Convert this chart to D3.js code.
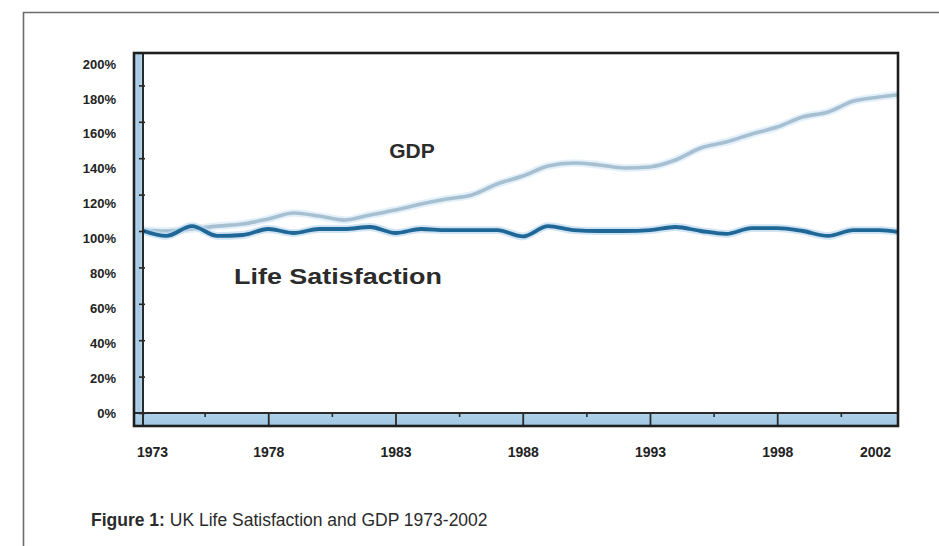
<!DOCTYPE html>
<html>
<head>
<meta charset="utf-8">
<script src="https://cdn.jsdelivr.net/npm/d3@7"></script>
<style>
  html, body { margin: 0; padding: 0; background: #fff; }
  svg { display: block; font-family: "Liberation Sans", Arial, Helvetica, sans-serif; }
</style>
</head>
<body>
<svg id="chart" width="939" height="546"></svg>
<script>
// Years of the series (the last point runs off the right edge of the frame)
const years = [1973, 1974, 1975, 1976, 1977, 1978, 1979, 1980, 1981, 1982,
               1983, 1984, 1985, 1986, 1987, 1988, 1989, 1990, 1991, 1992,
               1993, 1994, 1995, 1996, 1997, 1998, 1999, 2000, 2001, 2002, 2003];

// Index, 1973 = 100%
const gdp = [100.5, 100, 101.1, 102.7, 103.8, 106.6, 109.9, 108.2, 106, 108.8,
             111.5, 114.8, 117.6, 119.8, 125.8, 130.2, 135.7, 137.4, 136.3, 134.6,
             135.2, 139, 145.6, 148.9, 153.3, 157.1, 162.6, 165.4, 171.4, 173.6, 175.3];

const lifeSatisfaction = [100.5, 97.3, 102.7, 97.3, 97.8, 101.1, 98.9, 101.1, 101.1, 102.2,
                          98.9, 101.1, 100.5, 100.5, 100.5, 97, 102.7, 100.5, 100, 100,
                          100.5, 102.2, 100, 98.4, 101.6, 101.6, 100, 97.3, 100.5, 100.5, 98.9];

const yTickLabels = [0, 20, 40, 60, 80, 100, 120, 140, 160, 180, 200];
const xTickLabels = [1973, 1978, 1983, 1988, 1993, 1998, 2002];
const xDividers = [1978, 1983, 1988, 1993, 1998];
const xMinorTicks = [1975.5, 1980.5, 1985.5, 1990.5, 1995.5, 2000.5];

const seriesLabels = { gdp: "GDP", life: "Life Satisfaction" };
const captionBold = "Figure 1:";
const captionText = " UK Life Satisfaction and GDP 1973-2002";

const svg = d3.select("#chart");

// Frame geometry
const box = { left: 134, top: 53, right: 898, bottom: 426 };
const band = { left: 143, bottom: 413 };

const x = d3.scaleLinear().domain([1973, 2002]).range([141, 879]);
const y = d3.scaleLinear().domain([0, 100]).range([413, 231]);
// Percentage captions are spaced on their own ladder beside the frame
const yLabel = d3.scaleLinear().domain([0, 200]).range([413, 64]);

// Page border (left and top rules)
svg.append("path")
  .attr("d", "M23.5,546 V12.5 H939")
  .attr("fill", "none")
  .attr("stroke", "#6b6b6b")
  .attr("stroke-width", 1.6);

const defs = svg.append("defs");
defs.append("clipPath").attr("id", "plotClip")
  .append("rect")
  .attr("x", band.left).attr("y", box.top)
  .attr("width", box.right - band.left).attr("height", band.bottom - box.top);

const bandGrad = defs.append("linearGradient").attr("id", "bandV")
  .attr("x1", 0).attr("x2", 1).attr("y1", 0).attr("y2", 0);
bandGrad.append("stop").attr("offset", 0).attr("stop-color", "#bddaee");
bandGrad.append("stop").attr("offset", 0.5).attr("stop-color", "#a3c9e5");
bandGrad.append("stop").attr("offset", 1).attr("stop-color", "#badaef");

const bandGradH = defs.append("linearGradient").attr("id", "bandH")
  .attr("x1", 0).attr("x2", 0).attr("y1", 0).attr("y2", 1);
bandGradH.append("stop").attr("offset", 0).attr("stop-color", "#b0d2ea");
bandGradH.append("stop").attr("offset", 1).attr("stop-color", "#9fc6e2");

// Plot background
svg.append("rect")
  .attr("x", box.left).attr("y", box.top)
  .attr("width", box.right - box.left).attr("height", box.bottom - box.top)
  .attr("fill", "#ffffff");

// Left and bottom blue bands
svg.append("rect")
  .attr("x", box.left).attr("y", box.top)
  .attr("width", band.left - box.left).attr("height", box.bottom - box.top)
  .attr("fill", "url(#bandV)");
svg.append("rect")
  .attr("x", box.left).attr("y", band.bottom)
  .attr("width", box.right - box.left).attr("height", box.bottom - band.bottom)
  .attr("fill", "url(#bandH)");

// Series lines
const line = d3.line()
  .x((d, i) => x(years[i]))
  .y(d => y(d))
  .curve(d3.curveMonotoneX);

const plot = svg.append("g").attr("clip-path", "url(#plotClip)");

function drawSeries(values, halo, stroke, width) {
  plot.append("path").datum(values)
    .attr("d", line)
    .attr("fill", "none")
    .attr("stroke", halo)
    .attr("stroke-width", width + 4)
    .attr("stroke-linejoin", "round")
    .attr("stroke-linecap", "round")
    .attr("opacity", 0.7);
  plot.append("path").datum(values)
    .attr("d", line)
    .attr("fill", "none")
    .attr("stroke", stroke)
    .attr("stroke-width", width)
    .attr("stroke-linejoin", "round")
    .attr("stroke-linecap", "round");
}

drawSeries(gdp, "#d7eaf6", "#a6c0d2", 3.6);
drawSeries(lifeSatisfaction, "#bcd9ee", "#1f6796", 3.8);

// Y ticks on the inner edge of the left band
svg.append("g")
  .attr("transform", `translate(${band.left + 2},0)`)
  .call(d3.axisLeft(y).tickValues(yTickLabels.filter(v => y(v) > box.top + 4)).tickSize(6).tickFormat(""))
  .call(g => g.select(".domain").remove())
  .call(g => g.selectAll(".tick line").attr("stroke", "#222").attr("stroke-width", 1.6));

// Y labels
svg.append("g")
  .attr("transform", "translate(116,0)")
  .call(d3.axisLeft(yLabel).tickValues(yTickLabels).tickSize(0).tickPadding(0).tickFormat(d => d + "%"))
  .call(g => g.select(".domain").remove())
  .call(g => g.selectAll("text")
    .attr("font-family", "'Liberation Sans', Arial, sans-serif")
    .attr("font-size", 13)
    .attr("font-weight", "bold")
    .attr("fill", "#222"));

// Bottom band: full-height dividers and short minor ticks
svg.append("g")
  .attr("transform", `translate(0,${band.bottom})`)
  .call(d3.axisBottom(x).tickValues(xDividers).tickSize(box.bottom - band.bottom).tickFormat(""))
  .call(g => g.select(".domain").remove())
  .call(g => g.selectAll(".tick line").attr("stroke", "#2a2a2a").attr("stroke-width", 1.8));
svg.append("g")
  .attr("transform", `translate(0,${band.bottom})`)
  .call(d3.axisBottom(x).tickValues(xMinorTicks).tickSize(4).tickFormat(""))
  .call(g => g.select(".domain").remove())
  .call(g => g.selectAll(".tick line").attr("stroke", "#2a2a2a").attr("stroke-width", 1.6));

// X labels
svg.append("g")
  .attr("transform", "translate(0,447)")
  .call(d3.axisBottom(x).tickValues(xTickLabels).tickSize(0).tickPadding(0).tickFormat(d3.format("d")))
  .call(g => g.select(".domain").remove())
  .call(g => g.selectAll("text")
    .attr("dx", d => d === 1973 ? 11 : (d === 2002 ? -4 : 0))
    .attr("font-family", "'Liberation Sans', Arial, sans-serif")
    .attr("font-size", 14)
    .attr("font-weight", "bold")
    .attr("fill", "#222"));

// Inner band edges and outer frame
svg.append("line")
  .attr("x1", band.left).attr("x2", band.left)
  .attr("y1", box.top).attr("y2", box.bottom)
  .attr("stroke", "#2a2a2a").attr("stroke-width", 2);
svg.append("line")
  .attr("x1", box.left).attr("x2", box.right)
  .attr("y1", band.bottom).attr("y2", band.bottom)
  .attr("stroke", "#2a2a2a").attr("stroke-width", 2);
svg.append("rect")
  .attr("x", box.left).attr("y", box.top)
  .attr("width", box.right - box.left).attr("height", box.bottom - box.top)
  .attr("fill", "none")
  .attr("stroke", "#1e1e1e")
  .attr("stroke-width", 2.6);

// Series labels
svg.append("text")
  .attr("x", 412).attr("y", 158)
  .attr("text-anchor", "middle")
  .attr("font-family", "'Liberation Sans', Arial, sans-serif")
  .attr("font-size", 21)
  .attr("font-weight", "bold")
  .attr("fill", "#2b2b2b")
  .text(seriesLabels.gdp);

svg.append("text")
  .attr("x", 234).attr("y", 284)
  .attr("font-family", "'Liberation Sans', Arial, sans-serif")
  .attr("font-size", 22)
  .attr("font-weight", "bold")
  .attr("fill", "#2b2b2b")
  .attr("textLength", 208)
  .attr("lengthAdjust", "spacingAndGlyphs")
  .text(seriesLabels.life);

// Caption
const cap = svg.append("text")
  .attr("x", 91).attr("y", 526)
  .attr("font-family", "'Liberation Sans', Arial, sans-serif")
  .attr("font-size", 17.5)
  .attr("fill", "#2b2b2b");
cap.append("tspan").attr("font-weight", "bold").text(captionBold);
cap.append("tspan").text(captionText);
</script>
</body>
</html>
